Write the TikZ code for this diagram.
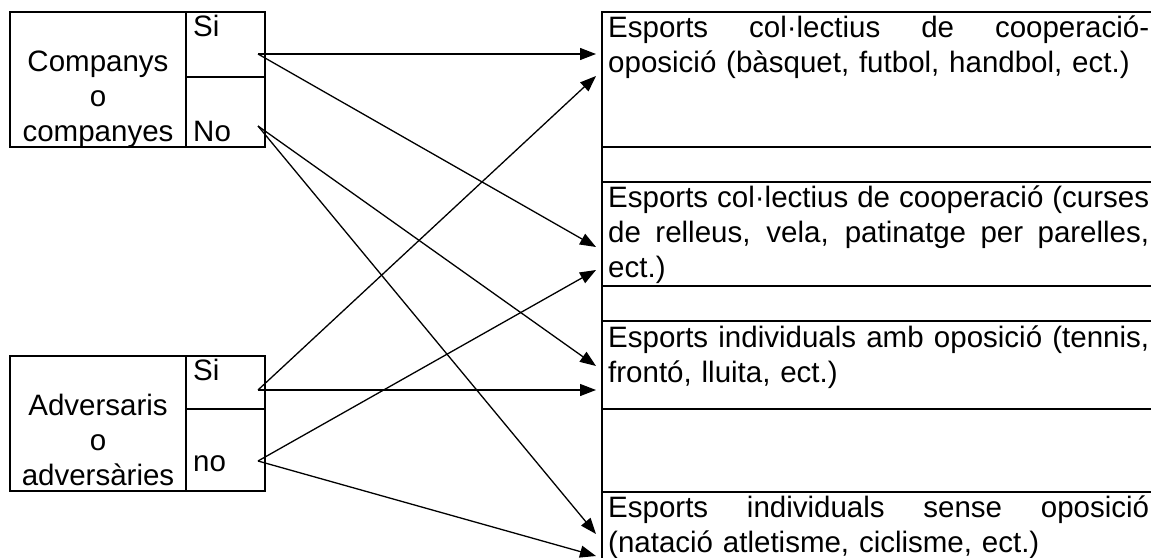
\documentclass[tikz,border=0pt]{standalone}
\usepackage{fontspec}
\setmainfont{Liberation Sans}
\usetikzlibrary{arrows.meta,fit}
\newcommand{\jline}[1]{\makebox[541pt][s]{\spaceskip=0pt\xspaceskip=0pt\relax #1}}
\begin{document}
\begin{tikzpicture}[x=1pt,y=-1pt,
  box/.style={draw, line width=1.6pt, inner sep=0pt},
  conn/.style={line width=1.3pt, -{Triangle[length=16pt,width=12pt]}},
  txt/.style={inner sep=0pt, font=\fontsize{29.5}{35}\selectfont}]
\useasboundingbox (0,0) rectangle (1151,557);
\clip (0,0) rectangle (1151,557);

% left top box
\node[box, fit={(10,12) (186,147)}] (comp) {};
\node[box, fit={(186,12) (265,77)}] (compsi) {};
\node[box, fit={(186,77) (265,147)}] (compno) {};
\node[txt, anchor=north, align=center] (comptxt) at (98,47) {\strut Companys\\\strut o\\\strut companyes};
\node[txt, anchor=north west] (sitoptxt) at (193,12) {\strut Si};
\node[txt, anchor=north west] (notoptxt) at (193,117) {\strut No};

% left bottom box
\node[box, fit={(10,356) (186,491)}] (adv) {};
\node[box, fit={(186,356) (265,409)}] (advsi) {};
\node[box, fit={(186,409) (265,491)}] (advno) {};
\node[txt, anchor=north, align=center] (advtxt) at (98,391) {\strut Adversaris\\\strut o\\\strut adversàries};
\node[txt, anchor=north west] (sibottxt) at (193,356) {\strut Si};
\node[txt, anchor=north west] (nobottxt) at (193,446.5) {\strut no};

% right column cells
\node[box, fit={(602,12) (1170,147)}] (r1) {};
\node[box, fit={(602,147) (1170,182)}] (r2) {};
\node[box, fit={(602,182) (1170,286)}] (r3) {};
\node[box, fit={(602,286) (1170,321)}] (r4) {};
\node[box, fit={(602,321) (1170,409)}] (r5) {};
\node[box, fit={(602,409) (1170,492)}] (r6) {};
\node[box, fit={(602,492) (1170,600)}] (r7) {};

\node[txt, anchor=north west, text width=541pt, align=left] (t1) at (608,13)
  {\strut\jline{Esports col·lectius de cooperació-}\\\strut oposició (bàsquet, futbol, handbol, ect.)};
\node[txt, anchor=north west, text width=541pt, align=left] (t3) at (608,183)
  {\strut\jline{Esports col·lectius de cooperació (curses}\\\strut\jline{de relleus, vela, patinatge per parelles,}\\\strut ect.)};
\node[txt, anchor=north west, text width=541pt, align=left] (t5) at (608,323)
  {\strut\jline{Esports individuals amb oposició (tennis,}\\\strut frontó, lluita, ect.)};
\node[txt, anchor=north west, text width=541pt, align=left] (t7) at (608,493)
  {\strut\jline{Esports individuals sense oposició}\\\strut (natació atletisme, ciclisme, ect.)};

% connector end points
\coordinate (csi) at (258,54);
\coordinate (cno) at (258,126);
\coordinate (asi) at (258,390);
\coordinate (ano) at (258,461);
\coordinate (e1a) at (596,54);
\coordinate (e1b) at (596,76);
\coordinate (e3a) at (596,247);
\coordinate (e3b) at (596,270);
\coordinate (e5a) at (596,366);
\coordinate (e5b) at (596,390);
\coordinate (e7a) at (596,534);
\coordinate (e7b) at (596,556);

\draw[conn] (csi) -- (e1a);
\draw[conn] (csi) -- (e3a);
\draw[conn] (cno) -- (e5a);
\draw[conn] (cno) -- (e7a);
\draw[conn] (asi) -- (e1b);
\draw[conn] (asi) -- (e5b);
\draw[conn] (ano) -- (e3b);
\draw[conn] (ano) -- (e7b);
\end{tikzpicture}
\end{document}
